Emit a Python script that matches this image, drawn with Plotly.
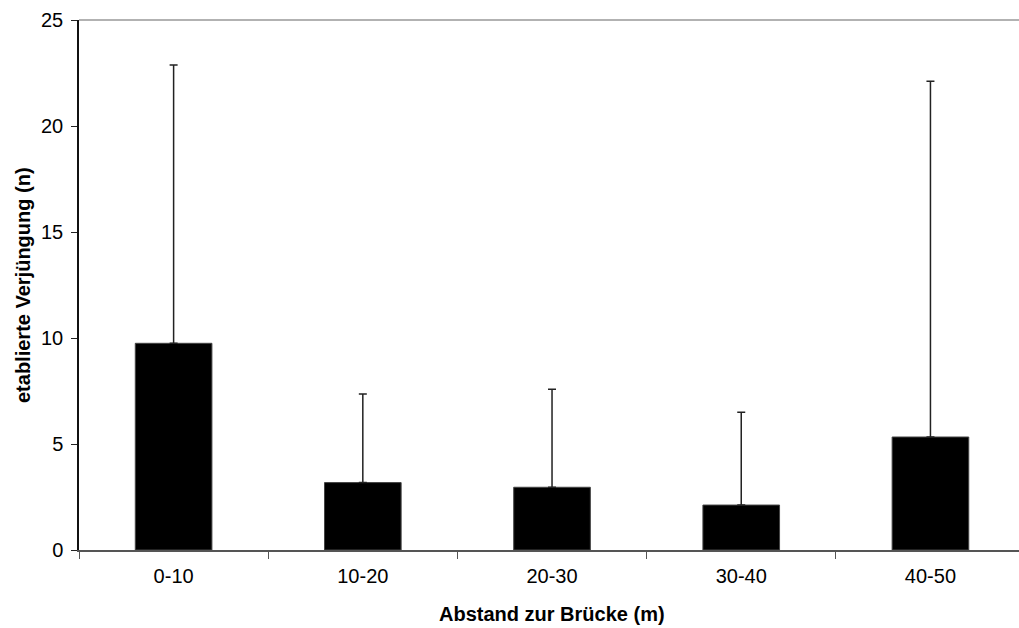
import plotly.graph_objects as go

categories = ["0-10", "10-20", "20-30", "30-40", "40-50"]
means = [9.75, 3.18, 2.96, 2.12, 5.33]
err_upper = [13.13, 4.18, 4.62, 4.38, 16.78]
y_ticks = [0, 5, 10, 15, 20, 25]

FONT = "Arial, Liberation Sans, sans-serif"

fig = go.Figure()
fig.add_trace(go.Bar(
    x=categories, y=means,
    marker=dict(color="black", line=dict(color="#444444", width=1)),
    error_y=dict(type="data", symmetric=False, array=err_upper,
                 arrayminus=[0] * len(means), color="#222222",
                 thickness=1.5, width=4),
    width=0.405,
))

fig.update_layout(
    width=1019, height=628,
    margin=dict(l=79, r=0, t=20, b=78),
    paper_bgcolor="white", plot_bgcolor="white",
    showlegend=False,
    font=dict(family=FONT, size=20, color="black"),
    xaxis=dict(
        range=[-0.5, 4.468],
        tickson="boundaries", ticks="outside", ticklen=7, tickwidth=1,
        tickcolor="#555555", showline=True, linecolor="#555555", linewidth=1.5,
        showgrid=False, tickfont=dict(size=20), ticklabelstandoff=7,
    ),
    yaxis=dict(
        range=[0, 25], tickvals=y_ticks, ticks="outside", ticklen=6,
        tickwidth=1, tickcolor="#222222", showline=True, linecolor="#111111",
        linewidth=1.5, showgrid=False, zeroline=False, tickfont=dict(size=20),
        ticklabelstandoff=4,
    ),
)

fig.add_shape(type="line", xref="paper", yref="paper", x0=0, x1=1, y0=1, y1=1,
              line=dict(color="#999999", width=1.5))

fig.add_annotation(text="<b>Abstand zur Brücke (m)</b>", xref="x", yref="paper",
                   x=2.0, y=0, yshift=-64, showarrow=False,
                   font=dict(size=20, family=FONT), xanchor="center", yanchor="middle")
fig.add_annotation(text="<b>etablierte Verjüngung (n)</b>", xref="paper", yref="paper",
                   x=0, xshift=-56, y=0.5, showarrow=False, textangle=-90,
                   font=dict(size=20, family=FONT), xanchor="center", yanchor="middle")

fig.write_html("out.html")
